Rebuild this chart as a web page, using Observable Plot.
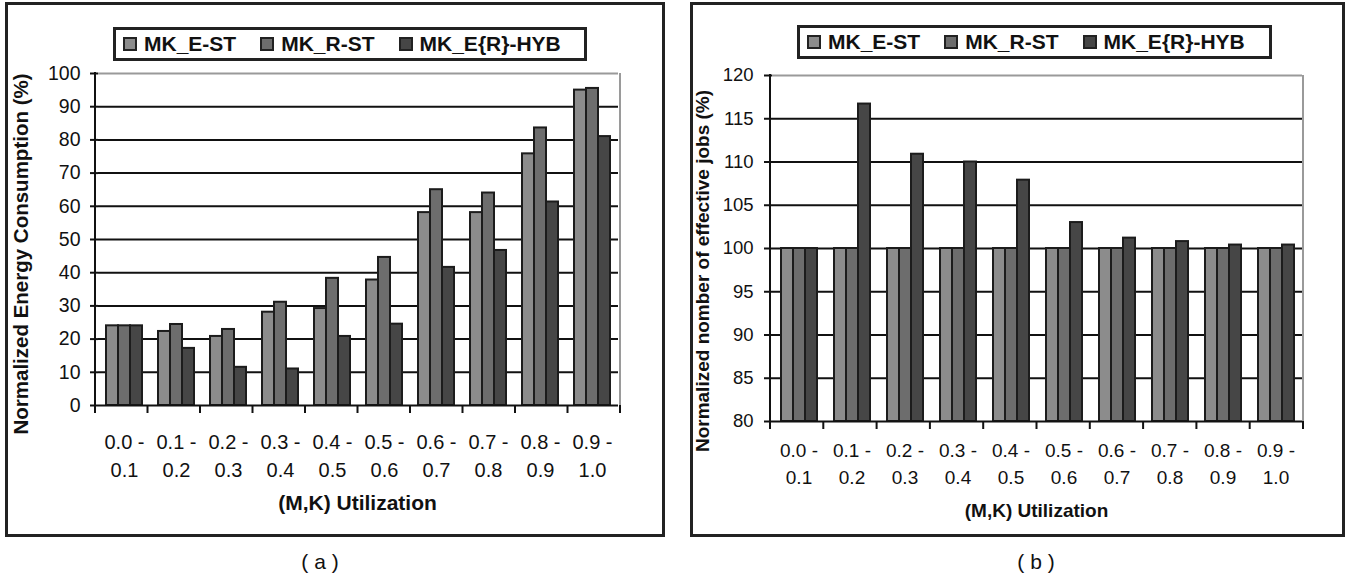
<!DOCTYPE html>
<html>
<head>
<meta charset="utf-8">
<script src="https://cdn.jsdelivr.net/npm/d3@7"></script>
<script src="https://cdn.jsdelivr.net/npm/@observablehq/plot@0.6"></script>
<style>
  body { margin: 0; background: #fff; font-family: "Liberation Sans", Arial, Helvetica, sans-serif; color: #111; }
  #page { position: relative; width: 1348px; height: 579px; overflow: hidden; background: #fff; }
  .panel { position: absolute; border: 3px solid #222; box-sizing: border-box; z-index: 0; }
  .chart { position: absolute; top: 0; z-index: 1; }
  .legend { position: absolute; z-index: 2; border: 3px solid #222; box-sizing: border-box; background: #fff;
            display: flex; align-items: center; padding-left: 7px; font-weight: bold; white-space: nowrap; color: #111; }
  .legend .sw { display: inline-block; width: 14px; height: 14px; box-sizing: border-box; border: 2px solid #222; margin-right: 7px; }
  .legend .lab { margin-right: 24px; }
  .legend .lab:last-child { margin-right: 0; }
  .caption { position: absolute; font-size: 21px; transform: translate(-50%, -50%); white-space: pre; color: #111; }
  .chart svg [aria-label="y-axis tick"] path, .chart svg [aria-label="y-axis"] line { stroke-width: 2px; stroke: #111; }
</style>
</head>
<body>
<div id="page">
  <div class="panel" style="left:5px;top:2px;width:660px;height:535px"></div>
  <div class="panel" style="left:690px;top:2px;width:655px;height:535px"></div>
  <div id="chartA" class="chart" style="left:0px"></div>
  <div id="chartB" class="chart" style="left:680px"></div>
  <div id="legendA" class="legend" style="left:113px;top:27px;width:474px;height:34px;font-size:21px"></div>
  <div id="legendB" class="legend" style="left:797px;top:25px;width:475px;height:34px;font-size:21px"></div>
  <div class="caption" style="left:320px;top:562px">( a )</div>
  <div class="caption" style="left:1036px;top:562px">( b )</div>
</div>
<script>
// ---------- data ----------
const categories = ["0.0 - 0.1", "0.1 - 0.2", "0.2 - 0.3", "0.3 - 0.4", "0.4 - 0.5",
                    "0.5 - 0.6", "0.6 - 0.7", "0.7 - 0.8", "0.8 - 0.9", "0.9 - 1.0"];
const labelTop    = ["0.0 -", "0.1 -", "0.2 -", "0.3 -", "0.4 -", "0.5 -", "0.6 -", "0.7 -", "0.8 -", "0.9 -"];
const labelBottom = ["0.1", "0.2", "0.3", "0.4", "0.5", "0.6", "0.7", "0.8", "0.9", "1.0"];
const series = ["MK_E-ST", "MK_R-ST", "MK_E{R}-HYB"];
const seriesColors = ["#8c8c8c", "#6d6d6d", "#464646"];

// (a) Normalized Energy Consumption (%)
const energyEST = [24, 22.3, 20.8, 28.1, 29.2, 37.8, 58.1, 58.1, 75.8, 95.0];
const energyRST = [24, 24.4, 22.9, 31.1, 38.3, 44.6, 65.0, 64.0, 83.6, 95.5];
const energyHYB = [24, 17.2, 11.5, 11.0, 20.8, 24.5, 41.6, 46.7, 61.3, 81.0];
const energyTicks = [0, 10, 20, 30, 40, 50, 60, 70, 80, 90, 100];

// (b) Normalized number of effective jobs (%)
const jobsEST = [100, 100, 100, 100, 100, 100, 100, 100, 100, 100];
const jobsRST = [100, 100, 100, 100, 100, 100, 100, 100, 100, 100];
const jobsHYB = [100, 116.7, 110.9, 110.0, 107.9, 103.0, 101.2, 100.8, 100.4, 100.4];
const jobsTicks = [80, 85, 90, 95, 100, 105, 110, 115, 120];

const xTitle = "(M,K) Utilization";
const yTitleA = "Normalized Energy Consumption (%)";
const yTitleB = "Normalized nomber of effective jobs (%)";

// ---------- legends ----------
function buildLegend(id) {
  const el = document.getElementById(id);
  series.forEach((s, i) => {
    const sw = document.createElement("span");
    sw.className = "sw";
    sw.style.background = seriesColors[i];
    const lab = document.createElement("span");
    lab.className = "lab";
    lab.textContent = s;
    el.appendChild(sw);
    el.appendChild(lab);
  });
}
buildLegend("legendA");
buildLegend("legendB");

// ---------- charts ----------
function makeChart(cfg) {
  const data = [];
  categories.forEach((c, i) => series.forEach((s, j) => data.push({cat: c, series: s, value: cfg.values[j][i]})));
  const ticks = cfg.ticks;
  const yMin = ticks[0], yMax = ticks[ticks.length - 1];

  const chart = Plot.plot({
    width: cfg.width,
    height: cfg.height,
    marginLeft: cfg.marginLeft,
    marginRight: cfg.marginRight,
    marginTop: cfg.marginTop,
    marginBottom: cfg.marginBottom,
    style: {fontFamily: "'Liberation Sans', Arial, Helvetica, sans-serif", fontSize: cfg.tickFont + "px", color: "#111", background: "transparent", overflow: "visible"},
    fx: {domain: categories, padding: 0, axis: null, label: null},
    x: {domain: series, paddingInner: 0, paddingOuter: 0.65, axis: null, label: null},
    y: {domain: [yMin, yMax], ticks: ticks, tickSize: 8, tickPadding: cfg.tickPadding, label: null, tickFormat: d => String(d)},
    color: {domain: series, range: seriesColors},
    marks: [
      Plot.ruleY(ticks.filter(t => t > yMin && t < yMax), {stroke: "#111", strokeWidth: 2}),
      Plot.ruleY([yMax], {stroke: "#9a9a9a", strokeWidth: 2}),
      Plot.barY(data, {fx: "cat", x: "series", y1: yMin, y2: "value", fill: "series", stroke: "#1c1c1c", strokeWidth: 2}),
      Plot.ruleY([yMin], {stroke: "#111", strokeWidth: 2}),
      Plot.text(categories, {fx: d => d, text: (d, i) => labelTop[i] + "\n" + labelBottom[i],
        frameAnchor: "bottom", lineAnchor: "top", dy: cfg.xLabelDy, lineHeight: cfg.xLabelLH,
        fontSize: cfg.xLabelFont, fill: "#111"})
    ]
  });

  // decorations derived from the plot's own scales
  const svg = d3.select(chart);
  const fxS = chart.scale("fx");
  const yS = chart.scale("y");
  const r0 = fxS && fxS.range ? fxS.range[0] : cfg.marginLeft;
  const r1 = fxS && fxS.range ? fxS.range[1] : cfg.width - cfg.marginRight;
  const step = (r1 - r0) / categories.length;
  const yPix = v => yS.range[0] + (v - yS.domain[0]) / (yS.domain[1] - yS.domain[0]) * (yS.range[1] - yS.range[0]);
  const yb = yPix(yMin), yt = yPix(yMax);
  const g = svg.append("g").attr("stroke-linecap", "butt");
  // right gray border of plot area
  g.append("line").attr("x1", r1).attr("x2", r1).attr("y1", yt).attr("y2", yb).attr("stroke", "#9a9a9a").attr("stroke-width", 2);
  // y axis line
  g.append("line").attr("x1", r0).attr("x2", r0).attr("y1", yt - 1).attr("y2", yb + 1).attr("stroke", "#111").attr("stroke-width", 2);
  // category boundary ticks
  for (let i = 0; i <= categories.length; i++) {
    const x = r0 + i * step;
    g.append("line").attr("x1", x).attr("x2", x).attr("y1", yb).attr("y2", yb + 8).attr("stroke", "#111").attr("stroke-width", 2);
  }
  // axis titles
  svg.append("text").text(xTitle)
    .attr("x", (r0 + r1) / 2).attr("y", cfg.xTitleY)
    .attr("text-anchor", "middle").attr("font-weight", "bold").attr("font-size", cfg.titleFont).attr("fill", "#111");
  svg.append("text").text(cfg.yTitle)
    .attr("transform", `translate(${cfg.yTitleX},${cfg.yTitleCY}) rotate(-90)`)
    .attr("text-anchor", "middle").attr("dy", "0.35em").attr("font-weight", "bold").attr("font-size", cfg.yTitleFont).attr("fill", "#111");

  document.getElementById(cfg.id).appendChild(chart);
}

makeChart({
  id: "chartA", values: [energyEST, energyRST, energyHYB], ticks: energyTicks,
  width: 668, height: 540, marginLeft: 95, marginRight: 48, marginTop: 73, marginBottom: 135,
  tickFont: 19.5, tickPadding: 10, xLabelFont: 20, xLabelDy: 24, xLabelLH: 1.38,
  titleFont: 21, xTitleY: 510, yTitle: yTitleA, yTitleFont: 20.5, yTitleX: 21, yTitleCY: 254
});

makeChart({
  id: "chartB", values: [jobsEST, jobsRST, jobsHYB], ticks: jobsTicks,
  width: 668, height: 540, marginLeft: 90, marginRight: 45, marginTop: 75, marginBottom: 119,
  tickFont: 18.5, tickPadding: 11, xLabelFont: 19, xLabelDy: 16, xLabelLH: 1.42,
  titleFont: 19, xTitleY: 517, yTitle: yTitleB, yTitleFont: 19, yTitleX: 22, yTitleCY: 271
});
</script>
</body>
</html>
